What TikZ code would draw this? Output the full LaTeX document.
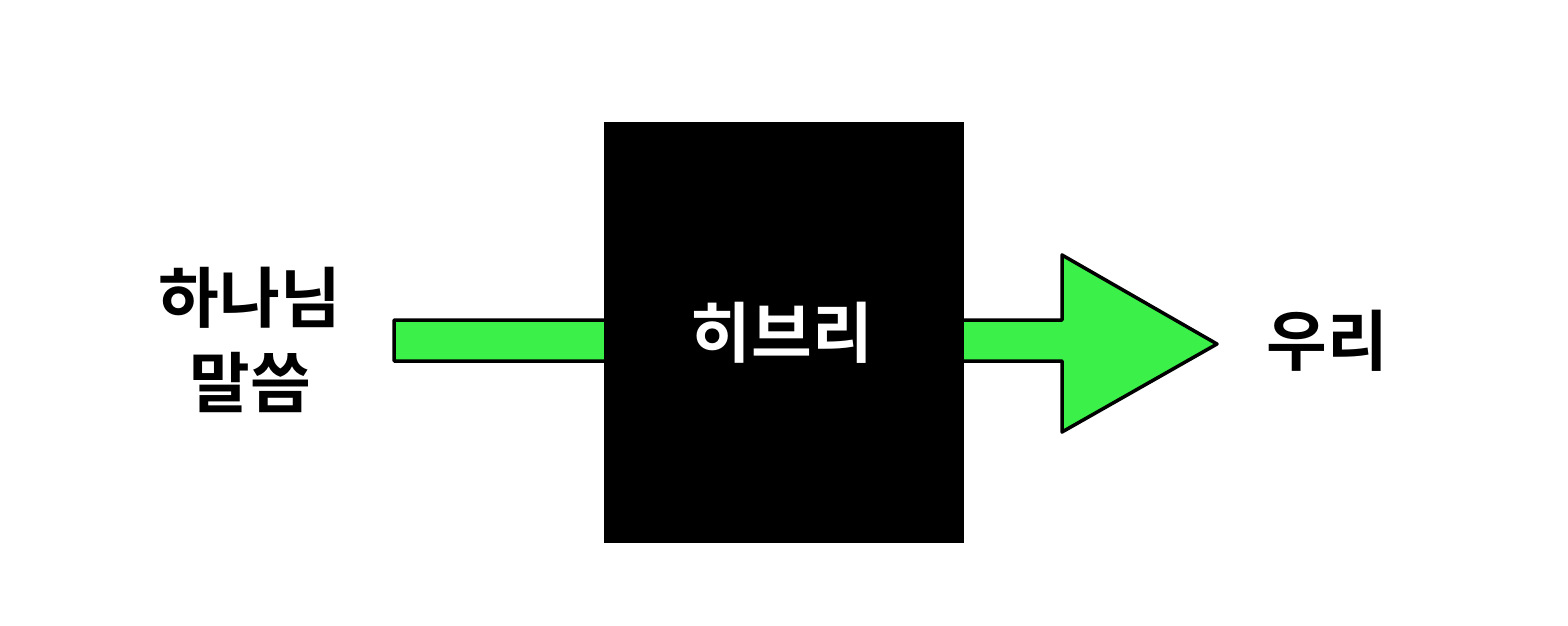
\documentclass[tikz,border=0pt]{standalone}
\usepackage{fontspec}
\newfontfamily\kr{Noto Sans CJK KR}[BoldFont={* Bold}]
\definecolor{arrowgreen}{HTML}{3CF04A}
\begin{document}
\begin{tikzpicture}[x=1pt,y=-1pt,
  lbl/.style={font=\kr\bfseries\fontsize{66}{85}\selectfont, align=center, inner sep=0pt},
  arrowshape/.style={draw=black, line width=3.5pt, line join=round, fill=arrowgreen},
  blackbox/.style={fill=black, draw=none}]
\useasboundingbox (0,0) rectangle (1568,626);
\draw[arrowshape] (394,320) -- (1062,320) -- (1062,255) -- (1217,344) -- (1062,432) -- (1062,361) -- (394,361) -- cycle;
\node[blackbox, minimum width=360pt, minimum height=421pt, inner sep=0pt] (box) at (784,332.5) {};
\node[lbl, text=white] (heb) at (782,333) {히브리};
\node[lbl] (word) at (250,340) {하나님\\말씀};
\node[lbl] (us) at (1327,341) {우리};
\end{tikzpicture}
\end{document}
